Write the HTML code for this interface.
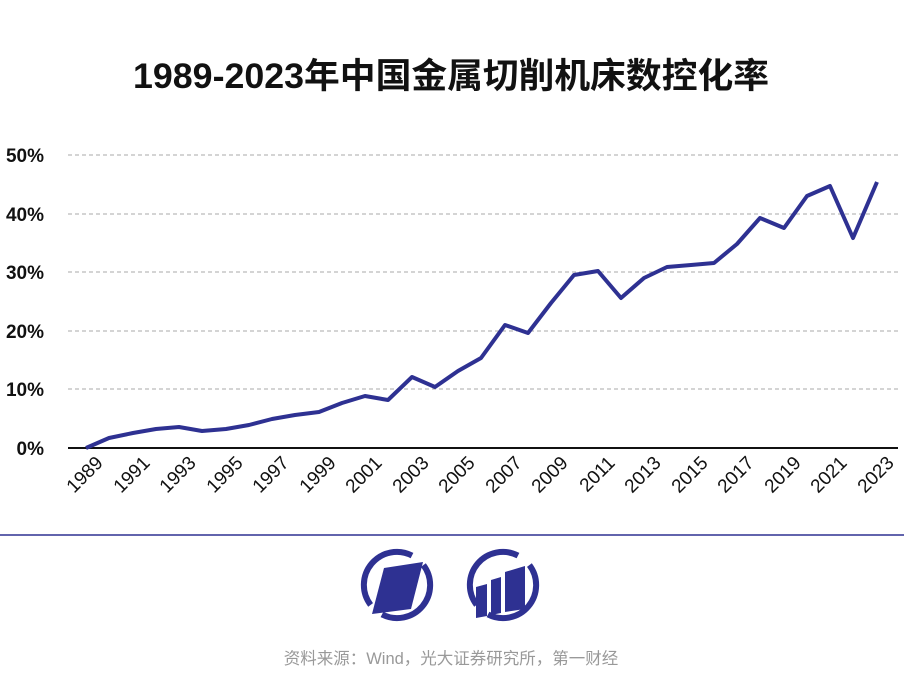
<!DOCTYPE html>
<html><head><meta charset="utf-8"><style>
body{margin:0;background:#fff;}
</style></head><body>
<svg width="904" height="685" xmlns="http://www.w3.org/2000/svg" style="display:block">
<text x="451" y="88" text-anchor="middle" font-family="'Liberation Sans','Noto Sans CJK SC',sans-serif" font-size="35" font-weight="bold" fill="#111" textLength="636" lengthAdjust="spacingAndGlyphs">1989-2023年中国金属切削机床数控化率</text>
<g stroke="#aaa" stroke-dasharray="4,3" stroke-width="1">
<line x1="68" y1="155" x2="898" y2="155"/><line x1="68" y1="214" x2="898" y2="214"/><line x1="68" y1="272" x2="898" y2="272"/><line x1="68" y1="331" x2="898" y2="331"/><line x1="68" y1="389" x2="898" y2="389"/>
</g>
<line x1="68" y1="448" x2="898" y2="448" stroke="#111" stroke-width="2"/>
<g font-family="'Liberation Sans',sans-serif" font-size="19" font-weight="bold" fill="#111" text-anchor="end">
<text x="44" y="162">50%</text><text x="44" y="221">40%</text><text x="44" y="279">30%</text><text x="44" y="338">20%</text><text x="44" y="396">10%</text><text x="44" y="455">0%</text>
</g>
<polyline fill="none" stroke="#2e3192" stroke-width="4" stroke-linejoin="round" points="86,448 109,438 133,433 156,429 179,427 202,431 226,429 249,425 272,419 295,415 319,412 342,403 365,396 388,400 412,377 435,387 458,371 481,358 505,325 528,333 551,303 574,275 598,271 621,298 644,278 667,267 691,265 714,263 737,244 760,218 784,228 807,196 830,186 853,238 877,182"/>
<g font-family="'Liberation Sans',sans-serif" font-size="19" fill="#111" text-anchor="end">
<text transform="translate(104,464) rotate(-45)">1989</text>
<text transform="translate(151,464) rotate(-45)">1991</text>
<text transform="translate(197,464) rotate(-45)">1993</text>
<text transform="translate(244,464) rotate(-45)">1995</text>
<text transform="translate(290,464) rotate(-45)">1997</text>
<text transform="translate(337,464) rotate(-45)">1999</text>
<text transform="translate(383,464) rotate(-45)">2001</text>
<text transform="translate(430,464) rotate(-45)">2003</text>
<text transform="translate(476,464) rotate(-45)">2005</text>
<text transform="translate(523,464) rotate(-45)">2007</text>
<text transform="translate(569,464) rotate(-45)">2009</text>
<text transform="translate(616,464) rotate(-45)">2011</text>
<text transform="translate(662,464) rotate(-45)">2013</text>
<text transform="translate(709,464) rotate(-45)">2015</text>
<text transform="translate(755,464) rotate(-45)">2017</text>
<text transform="translate(802,464) rotate(-45)">2019</text>
<text transform="translate(848,464) rotate(-45)">2021</text>
<text transform="translate(895,464) rotate(-45)">2023</text>
</g>
<line x1="0" y1="535" x2="904" y2="535" stroke="#2e3192" stroke-width="1.5"/>
<g fill="none" stroke="#2e3192" stroke-width="6">
<path d="M423.4,565.1 A33,33 0 0 1 382,614.4"/><path d="M370.6,604.9 A33,33 0 0 1 412,555.6"/>
<path d="M529.4,565.1 A33,33 0 0 1 488,614.4"/><path d="M476.6,604.9 A33,33 0 0 1 518,555.6"/>
</g>
<polygon points="384,568 423,562 411,609 372,614" fill="#2e3192"/>
<polygon points="476,587 487,584 487,616 476,618" fill="#2e3192"/>
<polygon points="491,580 501,577 501,613 491,615" fill="#2e3192"/>
<polygon points="505,572 525,566 525,609 505,612" fill="#2e3192"/>
<text x="451" y="664" text-anchor="middle" font-family="'Liberation Sans','Noto Sans CJK SC',sans-serif" font-size="16.5" fill="#999">资料来源：Wind，光大证券研究所，第一财经</text>
</svg>
</body></html>
